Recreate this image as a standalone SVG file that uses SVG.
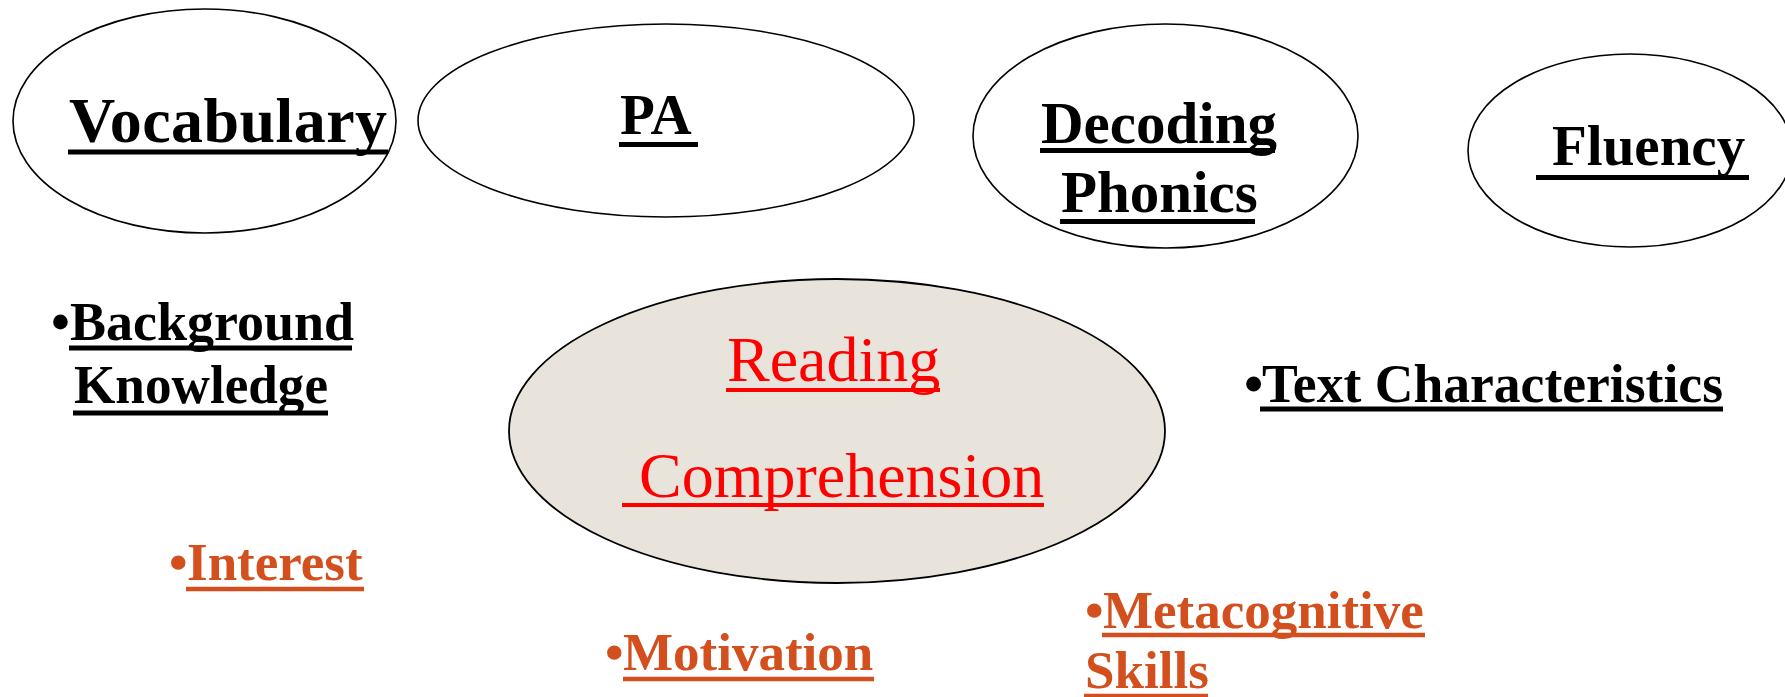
<svg xmlns="http://www.w3.org/2000/svg" width="1785" height="697" viewBox="0 0 1785 697">
<style>
.ell{fill:#FFFFFF;stroke:#000000;stroke-width:1.6}
.core{fill:#E8E4DC;stroke:#000000;stroke-width:1.8}
.b{font-family:"Liberation Serif","Times New Roman",serif;font-weight:bold;fill:#000000}
.o{font-family:"Liberation Serif","Times New Roman",serif;font-weight:bold;fill:#D34F1E}
.r{font-family:"Liberation Serif","Times New Roman",serif;font-weight:normal;fill:#FF0000}
.ub{stroke:#000000;stroke-width:5}
.uo{stroke:#D34F1E;stroke-width:4.5}
.ur{stroke:#FF0000;stroke-width:4}
</style>
<rect x="0" y="0" width="1785" height="697" fill="#FFFFFF"/>
<g id="connectors"></g>
<g id="vocabulary">
<ellipse class="ell" cx="204.5" cy="121" rx="191.5" ry="112"/>
<text class="b" x="69" y="142" font-size="64" textLength="318" lengthAdjust="spacing">Vocabulary</text>
<line class="ub" x1="68" y1="152" x2="388" y2="152" stroke-width="6"/>
</g>
<g id="pa">
<ellipse class="ell" cx="666" cy="120.5" rx="248" ry="96.5"/>
<text class="b" x="620" y="134" font-size="57">PA</text>
<line class="ub" x1="619" y1="144.5" x2="698" y2="144.5"/>
</g>
<g id="decoding-phonics">
<ellipse class="ell" cx="1165.5" cy="136" rx="192.5" ry="112"/>
<text class="b" font-size="59"><tspan x="1041" y="143">Decoding</tspan><tspan x="1061" y="212">Phonics</tspan></text>
<line class="ub" x1="1040" y1="150.5" x2="1275" y2="150.5"/>
<line class="ub" x1="1060" y1="221.5" x2="1255" y2="221.5"/>
</g>
<g id="fluency">
<ellipse class="ell" cx="1630" cy="150.5" rx="162" ry="96.5"/>
<text class="b" x="1552" y="165" font-size="57">Fluency</text>
<line class="ub" x1="1536" y1="177.5" x2="1749" y2="177.5"/>
</g>
<g id="reading-comprehension">
<ellipse class="core" cx="837" cy="431" rx="328" ry="152"/>
<text class="r" font-size="64"><tspan x="727" y="381">Reading</tspan><tspan x="639" y="497">Comprehension</tspan></text>
<line class="ur" x1="726" y1="390" x2="940" y2="390"/>
<line class="ur" x1="622" y1="505" x2="1044" y2="505"/>
</g>
<g id="background-knowledge">
<text class="b" font-size="54"><tspan x="51" y="340">•</tspan><tspan x="70" y="340">Background</tspan><tspan x="74" y="403" textLength="254" lengthAdjust="spacingAndGlyphs">Knowledge</tspan></text>
<line class="ub" x1="69" y1="348" x2="352" y2="348" stroke-width="4.5"/>
<line class="ub" x1="73" y1="413" x2="328" y2="413" stroke-width="4.5"/>
</g>
<g id="text-characteristics">
<text class="b" font-size="55"><tspan x="1244" y="402">•</tspan><tspan x="1262" y="402" textLength="461" lengthAdjust="spacingAndGlyphs">Text Characteristics</tspan></text>
<line class="ub" x1="1260" y1="409" x2="1723" y2="409"/>
</g>
<g id="interest">
<text class="o" font-size="53"><tspan x="169" y="580">•</tspan><tspan x="187" y="580">Interest</tspan></text>
<line class="uo" x1="186" y1="589" x2="364" y2="589"/>
</g>
<g id="motivation">
<text class="o" font-size="53"><tspan x="605" y="670">•</tspan><tspan x="623" y="670">Motivation</tspan></text>
<line class="uo" x1="623" y1="679" x2="874" y2="679"/>
</g>
<g id="metacognitive-skills">
<text class="o" font-size="53"><tspan x="1085" y="628">•</tspan><tspan x="1103" y="628">Metacognitive</tspan><tspan x="1085" y="688">Skills</tspan></text>
<line class="uo" x1="1102" y1="635" x2="1425" y2="635"/>
<line class="uo" x1="1084" y1="696" x2="1208" y2="696" stroke-width="3"/>
</g>
</svg>
